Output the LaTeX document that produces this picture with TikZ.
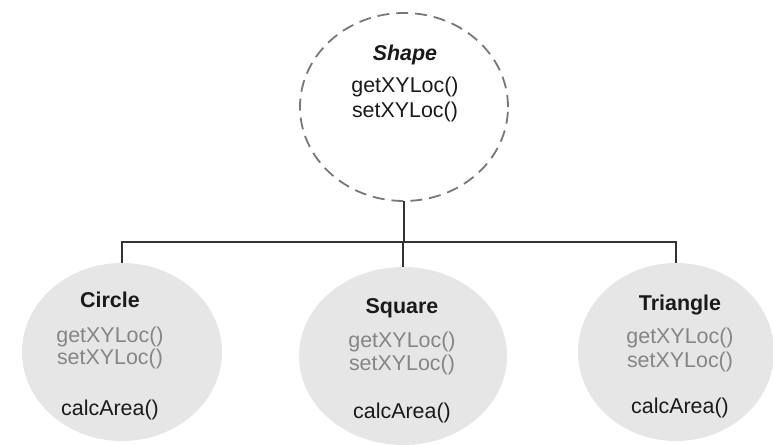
\documentclass[tikz,border=0pt]{standalone}
\usepackage{fontspec}
\setmainfont{Liberation Sans}
\usetikzlibrary{shapes.geometric}
\definecolor{fillgray}{HTML}{E6E6E6}
\definecolor{txtgray}{HTML}{858585}
\definecolor{dashgray}{HTML}{777777}
\definecolor{linedark}{HTML}{333333}
\definecolor{txtdark}{HTML}{1A1A1A}
\tikzset{
  base/.style={ellipse, inner sep=0pt, outer sep=0pt},
  parent/.style={base, draw=dashgray, line width=1.8pt, dash pattern=on 12pt off 7pt, fill=white},
  child/.style={base, fill=fillgray},
  conn/.style={draw=linedark, line width=1.8pt},
  lbl/.style={inner sep=0pt, font=\fontsize{21.5}{25}\selectfont},
  ttl/.style={lbl, text=txtdark, font=\fontsize{21.5}{25}\selectfont\bfseries},
  inh/.style={lbl, text=txtgray},
  own/.style={lbl, text=txtdark},
}
\begin{document}
\begin{tikzpicture}[x=1bp, y=-1bp]
\useasboundingbox (0,0) rectangle (773,445);
% ellipses
\node[parent, minimum width=208bp, minimum height=188bp] (shape) at (404,107) {};
\node[child, minimum width=200bp, minimum height=178bp] (circ) at (122,352) {};
\node[child, minimum width=208bp, minimum height=178bp] (squ) at (403,356) {};
\node[child, minimum width=196bp, minimum height=178bp] (tri) at (676,352) {};
% connectors
\coordinate (bar) at (0,242);
\draw[conn] (shape.south) -- (shape.south |- bar);
\draw[conn, line join=miter] (circ.north) -- (circ.north |- bar) -- (tri.north |- bar) -- (tri.north);
\draw[conn] (squ.north) -- (squ.north |- bar);
% Shape text
\node[lbl, text=txtdark, font=\fontsize{21.5}{25}\selectfont\bfseries\itshape] (shT) at (405,55) {Shape};
\node[own] (shG) at (405,87) {getXYLoc()};
\node[own] (shS) at (405,112) {setXYLoc()};
% Circle
\node[ttl] (ciT) at (110,300) {Circle};
\node[inh] (ciG) at (110,337) {getXYLoc()};
\node[inh] (ciS) at (110,359) {setXYLoc()};
\node[own] (ciC) at (110,410) {calcArea()};
% Square
\node[ttl] (sqT) at (402,308) {Square};
\node[inh] (sqG) at (402,342) {getXYLoc()};
\node[inh] (sqS) at (402,365) {setXYLoc()};
\node[own] (sqC) at (402,413) {calcArea()};
% Triangle
\node[ttl] (trT) at (680,305) {Triangle};
\node[inh] (trG) at (680,338) {getXYLoc()};
\node[inh] (trS) at (680,362) {setXYLoc()};
\node[own] (trC) at (680,408) {calcArea()};
\end{tikzpicture}
\end{document}
